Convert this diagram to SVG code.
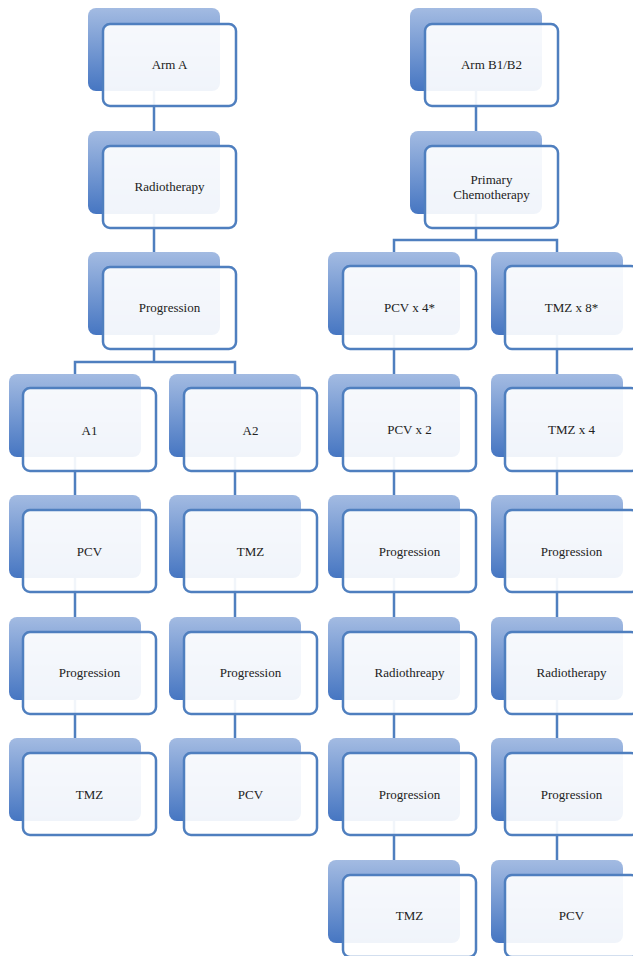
<svg xmlns="http://www.w3.org/2000/svg" width="633" height="956" viewBox="0 0 633 956">
<defs>
<linearGradient id="g" x1="0" y1="0" x2="0" y2="1">
<stop offset="0" stop-color="#a3bbe2"/>
<stop offset="1" stop-color="#4676c2"/>
</linearGradient>
</defs>
<style>
.b{fill:url(#g)}
.f{fill:#ffffff;fill-opacity:0.92;stroke:#4f7fbf;stroke-width:2.5}
text{font-family:'Liberation Serif','DejaVu Serif',serif;font-size:13px;fill:#222;text-anchor:middle}
.c{fill:none;stroke:#4f7fbf;stroke-width:2.5}
</style>
<rect width="633" height="956" fill="#fff"/>
<g id="connectors" class="c">
<path d="M154 91V131M154 214V252M154 335V362M75 374V362H235V374M75 457V495M75 578V617M75 700V738M235 457V495M235 578V617M235 700V738"/>
<path d="M476 91V131M476 214V240M394 252V240H557V252M394 335V374M394 457V495M394 578V617M394 700V738M394 821V860M557 335V374M557 457V495M557 578V617M557 700V738M557 821V860"/>
</g>
<g font-family="Liberation Serif, DejaVu Serif, serif">
<g id="armA" transform="translate(88,8)"><rect class="b" width="132" height="83" rx="8"/><rect class="f" x="15" y="16" width="133" height="82" rx="7"/><text x="81.5" y="61">Arm A</text></g>
<g id="radioA" transform="translate(88,131)"><rect class="b" width="132" height="83" rx="8"/><rect class="f" x="15" y="15" width="133" height="82" rx="7"/><text x="81.5" y="60">Radiotherapy</text></g>
<g id="progA" transform="translate(88,252)"><rect class="b" width="132" height="83" rx="8"/><rect class="f" x="15" y="15" width="133" height="82" rx="7"/><text x="81.5" y="60">Progression</text></g>
<g id="a1" transform="translate(9,374)"><rect class="b" width="132" height="83" rx="8"/><rect class="f" x="14" y="14" width="133" height="83" rx="7"/><text x="80.5" y="61">A1</text></g>
<g id="a1pcv" transform="translate(9,495)"><rect class="b" width="132" height="83" rx="8"/><rect class="f" x="14" y="15" width="133" height="82" rx="7"/><text x="80.5" y="61">PCV</text></g>
<g id="a1prog" transform="translate(9,617)"><rect class="b" width="132" height="83" rx="8"/><rect class="f" x="14" y="15" width="133" height="82" rx="7"/><text x="80.5" y="60">Progression</text></g>
<g id="a1tmz" transform="translate(9,738)"><rect class="b" width="132" height="83" rx="8"/><rect class="f" x="14" y="15" width="133" height="82" rx="7"/><text x="80.5" y="61">TMZ</text></g>
<g id="a2" transform="translate(169,374)"><rect class="b" width="132" height="83" rx="8"/><rect class="f" x="15" y="14" width="133" height="83" rx="7"/><text x="81.5" y="61">A2</text></g>
<g id="a2tmz" transform="translate(169,495)"><rect class="b" width="132" height="83" rx="8"/><rect class="f" x="15" y="15" width="133" height="82" rx="7"/><text x="81.5" y="61">TMZ</text></g>
<g id="a2prog" transform="translate(169,617)"><rect class="b" width="132" height="83" rx="8"/><rect class="f" x="15" y="15" width="133" height="82" rx="7"/><text x="81.5" y="60">Progression</text></g>
<g id="a2pcv" transform="translate(169,738)"><rect class="b" width="132" height="83" rx="8"/><rect class="f" x="15" y="15" width="133" height="82" rx="7"/><text x="81.5" y="61">PCV</text></g>
<g id="armB" transform="translate(410,8)"><rect class="b" width="132" height="83" rx="8"/><rect class="f" x="15" y="16" width="133" height="82" rx="7"/><text x="81.5" y="61">Arm B1/B2</text></g>
<g id="chemo" transform="translate(410,131)"><rect class="b" width="132" height="83" rx="8"/><rect class="f" x="15" y="15" width="133" height="82" rx="7"/><text x="81.5" y="53">Primary</text><text x="81.5" y="68">Chemotherapy</text></g>
<g id="pcv4" transform="translate(328,252)"><rect class="b" width="132" height="83" rx="8"/><rect class="f" x="15" y="14" width="133" height="83" rx="7"/><text x="81.5" y="60">PCV x 4*</text></g>
<g id="pcv2" transform="translate(328,374)"><rect class="b" width="132" height="83" rx="8"/><rect class="f" x="15" y="14" width="133" height="83" rx="7"/><text x="81.5" y="60">PCV x 2</text></g>
<g id="b1prog1" transform="translate(328,495)"><rect class="b" width="132" height="83" rx="8"/><rect class="f" x="15" y="15" width="133" height="82" rx="7"/><text x="81.5" y="61">Progression</text></g>
<g id="b1radio" transform="translate(328,617)"><rect class="b" width="132" height="83" rx="8"/><rect class="f" x="15" y="15" width="133" height="82" rx="7"/><text x="81.5" y="60">Radiothreapy</text></g>
<g id="b1prog2" transform="translate(328,738)"><rect class="b" width="132" height="83" rx="8"/><rect class="f" x="15" y="15" width="133" height="82" rx="7"/><text x="81.5" y="61">Progression</text></g>
<g id="b1tmz" transform="translate(328,860)"><rect class="b" width="132" height="83" rx="8"/><rect class="f" x="15" y="15" width="133" height="82" rx="7"/><text x="81.5" y="60">TMZ</text></g>
<g id="tmz8" transform="translate(491,252)"><rect class="b" width="132" height="83" rx="8"/><rect class="f" x="14" y="14" width="133" height="83" rx="7"/><text x="80.5" y="60">TMZ x 8*</text></g>
<g id="tmz4" transform="translate(491,374)"><rect class="b" width="132" height="83" rx="8"/><rect class="f" x="14" y="14" width="133" height="83" rx="7"/><text x="80.5" y="60">TMZ x 4</text></g>
<g id="b2prog1" transform="translate(491,495)"><rect class="b" width="132" height="83" rx="8"/><rect class="f" x="14" y="15" width="133" height="82" rx="7"/><text x="80.5" y="61">Progression</text></g>
<g id="b2radio" transform="translate(491,617)"><rect class="b" width="132" height="83" rx="8"/><rect class="f" x="14" y="15" width="133" height="82" rx="7"/><text x="80.5" y="60">Radiotherapy</text></g>
<g id="b2prog2" transform="translate(491,738)"><rect class="b" width="132" height="83" rx="8"/><rect class="f" x="14" y="15" width="133" height="82" rx="7"/><text x="80.5" y="61">Progression</text></g>
<g id="b2pcv" transform="translate(491,860)"><rect class="b" width="132" height="83" rx="8"/><rect class="f" x="14" y="15" width="133" height="82" rx="7"/><text x="80.5" y="60">PCV</text></g>
</g>
</svg>
